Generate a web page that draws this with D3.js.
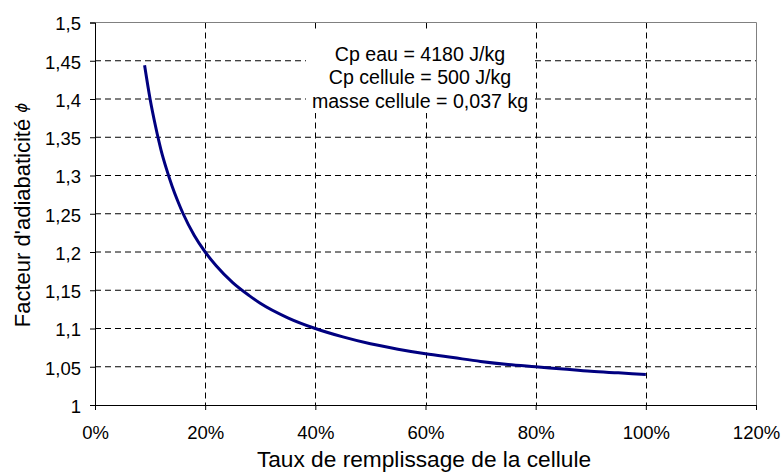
<!DOCTYPE html>
<html>
<head>
<meta charset="utf-8">
<script src="https://cdn.jsdelivr.net/npm/d3@7/dist/d3.min.js"></script>
<style>
  html, body { margin: 0; padding: 0; background: #fff; }
  svg { display: block; font-family: "Liberation Sans", Arial, sans-serif; }
</style>
</head>
<body>
<svg id="chart" width="784" height="472"></svg>
<script>
// ---- data ----
const fillRate = [0.09, 0.10, 0.11, 0.12, 0.13, 0.14, 0.15, 0.16, 0.18, 0.20, 0.22, 0.25, 0.28, 0.30,
                  0.35, 0.40, 0.45, 0.50, 0.55, 0.60, 0.65, 0.70, 0.75, 0.80, 0.85, 0.90, 0.95, 1.00];
const phiValues = [1.444, 1.400, 1.364, 1.333, 1.308, 1.286, 1.267, 1.250, 1.222, 1.200, 1.182, 1.160, 1.143, 1.133,
                   1.114, 1.100, 1.089, 1.080, 1.073, 1.067, 1.062, 1.057, 1.053, 1.050, 1.047, 1.044, 1.042, 1.040];
const xTicks = [0, 0.2, 0.4, 0.6, 0.8, 1.0, 1.2];
const xTickLabels = ["0%", "20%", "40%", "60%", "80%", "100%", "120%"];
const yTicks = [1, 1.05, 1.1, 1.15, 1.2, 1.25, 1.3, 1.35, 1.4, 1.45, 1.5];
const yTickLabels = ["1", "1,05", "1,1", "1,15", "1,2", "1,25", "1,3", "1,35", "1,4", "1,45", "1,5"];
const annotationLines = ["Cp eau = 4180 J/kg", "Cp cellule = 500 J/kg", "masse cellule = 0,037 kg"];
const xTitle = "Taux de remplissage de la cellule";
const yTitle = "Facteur d'adiabaticité ";
const ySymbol = "\u03D5";

// ---- drawing ----
(function () {
const svg = d3.select("#chart");
const pLeft = 95, pRight = 756, pTop = 22.5, pBottom = 405;
const x = d3.scaleLinear().domain([0, 1.2]).range([pLeft, pRight]);
const y = d3.scaleLinear().domain([1, 1.5]).range([pBottom, pTop]);

// gridlines
const grid = svg.append("g");
grid.selectAll("line.h").data(yTicks.filter(v => v > 1 && v < 1.5)).enter().append("line")
  .attr("x1", pLeft).attr("x2", pRight)
  .attr("y1", d => y(d)).attr("y2", d => y(d))
  .attr("stroke", "#000").attr("stroke-width", 1).attr("stroke-dasharray", "6,4");
grid.selectAll("line.v").data(xTicks.filter(v => v > 0 && v < 1.2)).enter().append("line")
  .attr("x1", d => Math.round(x(d)) + 0.5).attr("x2", d => Math.round(x(d)) + 0.5)
  .attr("y1", pTop).attr("y2", pBottom)
  .attr("stroke", "#000").attr("stroke-width", 1).attr("stroke-dasharray", "6,4");

// plot border (top, right)
svg.append("path")
  .attr("d", `M${pLeft},${pTop}H${pRight + 0.5}V${pBottom}`)
  .attr("fill", "none").attr("stroke", "#808080").attr("stroke-width", 1);

// curve
const line = d3.line().x((d, i) => x(fillRate[i])).y(d => y(d)).curve(d3.curveMonotoneX);
svg.append("path").datum(phiValues)
  .attr("d", line)
  .attr("fill", "none").attr("stroke", "#000080").attr("stroke-width", 3)
  .attr("stroke-linecap", "butt");

// annotation box
svg.append("rect").attr("x", 306).attr("y", 30).attr("width", 228).attr("height", 83).attr("fill", "#fff");
svg.append("g").selectAll("text").data(annotationLines).enter().append("text")
  .attr("x", 420).attr("y", (d, i) => 60.5 + i * 23.5)
  .attr("text-anchor", "middle").attr("font-size", 19.6).attr("fill", "#000")
  .text(d => d);

// axes
const xAxis = d3.axisBottom(x).tickValues(xTicks).tickSize(5).tickPadding(0)
  .tickFormat((d, i) => xTickLabels[i]);
const gx = svg.append("g").attr("transform", `translate(0,${pBottom})`).call(xAxis);
gx.select(".domain").attr("stroke", "#000");
gx.selectAll(".tick line").attr("stroke", "#000");
gx.selectAll(".tick text").attr("font-size", 18.5).attr("fill", "#000")
  .attr("font-family", "'Liberation Sans', Arial, sans-serif").attr("dy", null).attr("y", 34);

const yAxis = d3.axisLeft(y).tickValues(yTicks).tickSize(5).tickPadding(8)
  .tickFormat((d, i) => yTickLabels[i]);
const gy = svg.append("g").attr("transform", `translate(${pLeft},0)`).call(yAxis);
gy.select(".domain").attr("stroke", "#000");
gy.selectAll(".tick line").attr("stroke", "#000");
gy.selectAll(".tick text").attr("font-size", 18.5).attr("fill", "#000")
  .attr("font-family", "'Liberation Sans', Arial, sans-serif").attr("x", -14).attr("dy", "0.4em");

// axis titles
svg.append("text").attr("x", 424).attr("y", 467).attr("text-anchor", "middle")
  .attr("font-size", 22.7).attr("fill", "#000").text(xTitle);

const yt = svg.append("text").attr("transform", "translate(30,215) rotate(-90)")
  .attr("text-anchor", "middle").attr("font-size", 22).attr("fill", "#000");
yt.append("tspan").text(yTitle);
yt.append("tspan").attr("font-style", "italic").attr("font-size", 15).attr("dy", -3)
  .attr("font-family", "'DejaVu Sans', sans-serif").text(ySymbol);
})();
</script>
</body>
</html>
